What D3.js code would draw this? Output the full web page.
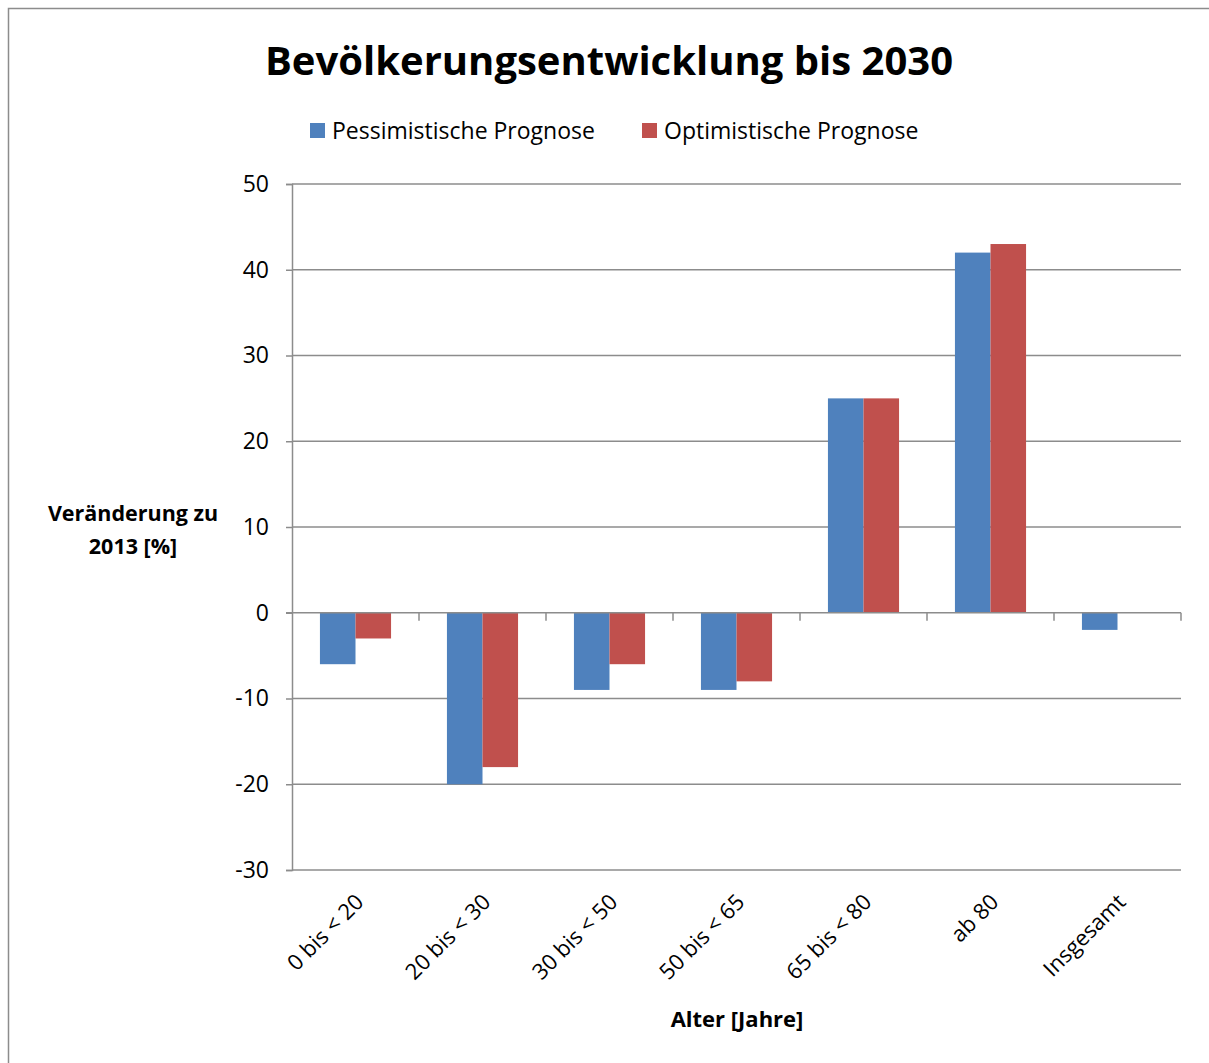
<!DOCTYPE html>
<html>
<head>
<meta charset="utf-8">
<script src="https://cdn.jsdelivr.net/npm/d3@7"></script>
<style>
  body { margin: 0; background: #fff; }
  svg { display: block; font-family: "Open Sans", "Noto Sans", sans-serif; }
</style>
</head>
<body>
<div id="chart"></div>
<script>
const categories = ["0 bis < 20", "20 bis < 30", "30 bis < 50", "50 bis < 65", "65 bis < 80", "ab 80", "Insgesamt"];
const pessimistic = [-6, -20, -9, -9, 25, 42, -2];
const optimistic = [-3, -18, -6, -8, 25, 43, 0];
const seriesNames = ["Pessimistische Prognose", "Optimistische Prognose"];
const seriesColors = ["#4F81BD", "#C0504D"];
const yTicks = [-30, -20, -10, 0, 10, 20, 30, 40, 50];

const width = 1209, height = 1063;
const margin = { left: 292, right: 28, top: 184, bottom: 193 };

const svg = d3.select("#chart").append("svg")
  .attr("width", width)
  .attr("height", height);

// outer frame (right and bottom edges fall outside the picture)
svg.append("rect")
  .attr("x", 8.5).attr("y", 8.5)
  .attr("width", width + 20).attr("height", height + 20)
  .attr("fill", "none").attr("stroke", "#8c8c8c").attr("stroke-width", 1.5);

const x = d3.scaleBand()
  .domain(categories)
  .range([margin.left, width - margin.right])
  .paddingInner(0.44).paddingOuter(0.22);

const xInner = d3.scaleBand()
  .domain([0, 1])
  .range([0, x.bandwidth()]);

const y = d3.scaleLinear()
  .domain([-30, 50])
  .range([height - margin.bottom, margin.top]);

// gridlines + y axis
const yAxis = d3.axisLeft(y).tickValues(yTicks).tickSize(6).tickPadding(17)
  .tickFormat(d => String(d));
const gy = svg.append("g").attr("transform", `translate(${margin.left},0)`).call(yAxis);
gy.select(".domain").attr("stroke", "#8c8c8c").attr("stroke-width", 1.5);
gy.selectAll(".tick line").attr("stroke", "#8c8c8c").attr("stroke-width", 1.5);
gy.selectAll(".tick text")
  .attr("font-size", 23).attr("fill", "#000")
  .style("font-family", "'Open Sans', sans-serif");

svg.append("g").selectAll("line")
  .data(yTicks.filter(d => d !== 0))
  .join("line")
  .attr("x1", margin.left).attr("x2", width - margin.right)
  .attr("y1", d => y(d)).attr("y2", d => y(d))
  .attr("stroke", "#8c8c8c").attr("stroke-width", 1.5);

// bars
const rows = categories.map((c, i) => ({ cat: c, vals: [pessimistic[i], optimistic[i]] }));
const groups = svg.append("g").selectAll("g")
  .data(rows)
  .join("g")
  .attr("transform", d => `translate(${x(d.cat)},0)`);

groups.selectAll("rect")
  .data(d => d.vals.map((v, k) => ({ v, k })))
  .join("rect")
  .attr("x", d => xInner(d.k))
  .attr("width", xInner.bandwidth())
  .attr("y", d => y(Math.max(0, d.v)))
  .attr("height", d => Math.abs(y(d.v) - y(0)))
  .attr("fill", d => seriesColors[d.k]);

// x axis on zero line, ticks between categories
const step = x.step();
const boundaries = d3.range(1, categories.length + 1).map(i => margin.left + i * step);
const gx = svg.append("g");
gx.append("line")
  .attr("x1", margin.left - 6).attr("x2", width - margin.right)
  .attr("y1", y(0)).attr("y2", y(0))
  .attr("stroke", "#8c8c8c").attr("stroke-width", 1.5);
gx.selectAll("line.tk")
  .data(boundaries)
  .join("line")
  .attr("class", "tk")
  .attr("x1", d => d).attr("x2", d => d)
  .attr("y1", y(0)).attr("y2", y(0) + 8)
  .attr("stroke", "#8c8c8c").attr("stroke-width", 1.5);

// rotated category labels
svg.append("g").selectAll("text")
  .data(categories)
  .join("text")
  .attr("transform", d => `translate(${x(d) + x.bandwidth() / 2 + 4},${y(-30) + 28}) rotate(-45)`)
  .attr("text-anchor", "end")
  .attr("dy", "0.35em")
  .attr("font-size", 22)
  .attr("fill", "#000")
  .text(d => d);

// title
svg.append("text")
  .attr("x", 609).attr("y", 75)
  .attr("text-anchor", "middle")
  .attr("font-size", 40).attr("font-weight", "bold")
  .attr("fill", "#000")
  .text("Bevölkerungsentwicklung bis 2030");

// legend
const legendX = [310, 642];
const legend = svg.append("g").selectAll("g")
  .data(seriesNames)
  .join("g")
  .attr("transform", (d, i) => `translate(${legendX[i]},123)`);
legend.append("rect")
  .attr("width", 15).attr("height", 15)
  .attr("fill", (d, i) => seriesColors[i]);
legend.append("text")
  .attr("x", 22).attr("y", 16)
  .attr("font-size", 23).attr("fill", "#000")
  .text(d => d);

// axis titles
const yTitle = svg.append("text")
  .attr("text-anchor", "middle")
  .attr("font-size", 21.5).attr("font-weight", "bold").attr("fill", "#000");
yTitle.append("tspan").attr("x", 133).attr("y", 521).text("Veränderung zu");
yTitle.append("tspan").attr("x", 133).attr("y", 554).text("2013 [%]");

svg.append("text")
  .attr("x", 737).attr("y", 1027)
  .attr("text-anchor", "middle")
  .attr("font-size", 22).attr("font-weight", "bold").attr("fill", "#000")
  .text("Alter [Jahre]");
</script>
</body>
</html>
